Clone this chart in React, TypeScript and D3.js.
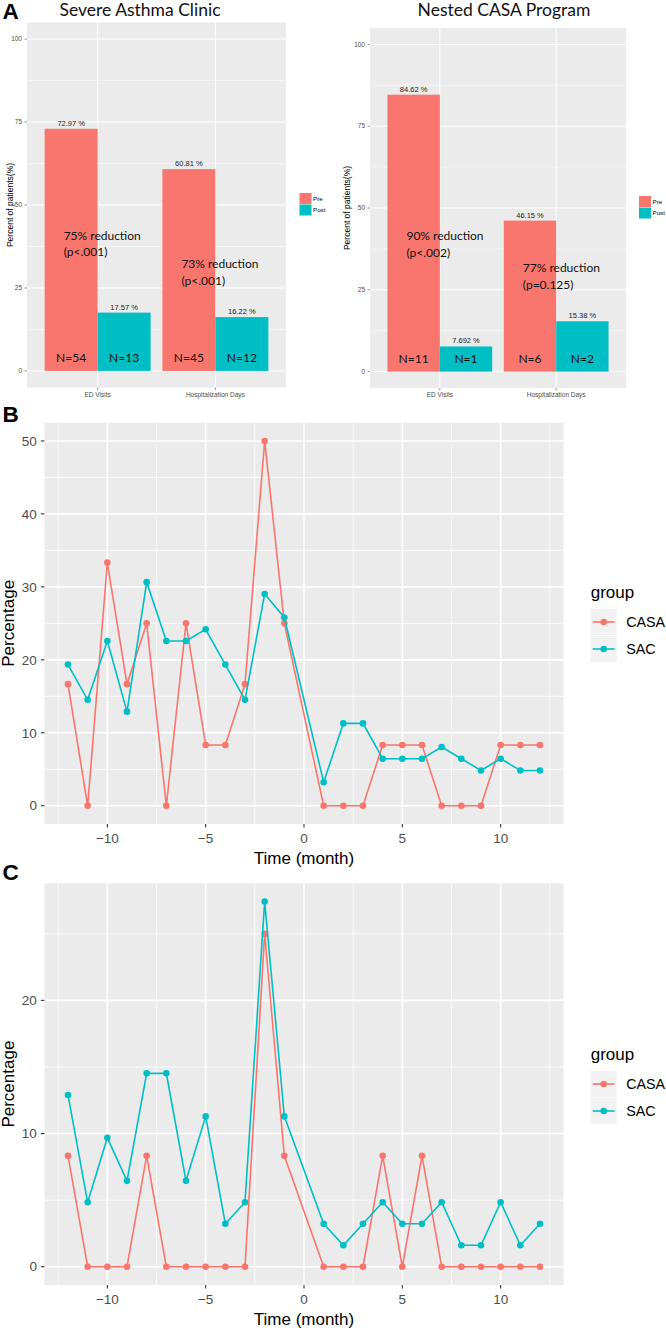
import React, { useEffect, useRef } from "react";
import * as d3 from "d3";

// panel A
const barCategories = ["ED Visits", "Hospitalization Days"];
const barGroups = ["Pre", "Post"];
const barTicks = [0, 25, 50, 75, 100];

const sacPre = [72.97, 60.81];
const sacPost = [17.57, 16.22];
const sacPreN = [54, 45];
const sacPostN = [13, 12];
const sacReduction = ["75% reduction", "73% reduction"];
const sacPValue = ["(p<.001)", "(p<.001)"];

const casaPre = [84.62, 46.15];
const casaPost = [7.692, 15.38];
const casaPreN = [11, 6];
const casaPostN = [1, 2];
const casaReduction = ["90% reduction", "77% reduction"];
const casaPValue = ["(p<.002)", "(p=0.125)"];

// panels B and C
const months = [-12, -11, -10, -9, -8, -7, -6, -5, -4, -3, -2, -1, 1, 2, 3, 4, 5, 6, 7, 8, 9, 10, 11, 12];
const groups = ["CASA", "SAC"];
const monthTicks = [-10, -5, 0, 5, 10];

const edCasa = [16.67, 0, 33.33, 16.67, 25, 0, 25, 8.33, 8.33, 16.67, 50, 25, 0, 0, 0, 8.33, 8.33, 8.33, 0, 0, 0, 8.33, 8.33, 8.33];
const edSac = [19.35, 14.52, 22.58, 12.9, 30.65, 22.58, 22.58, 24.19, 19.35, 14.52, 29.03, 25.81, 3.23, 11.29, 11.29, 6.45, 6.45, 6.45, 8.06, 6.45, 4.84, 6.45, 4.84, 4.84];
const edTicks = [0, 10, 20, 30, 40, 50];

const hospCasa = [8.33, 0, 0, 0, 8.33, 0, 0, 0, 0, 0, 25, 8.33, 0, 0, 0, 8.33, 0, 8.33, 0, 0, 0, 0, 0, 0];
const hospSac = [12.9, 4.84, 9.68, 6.45, 14.52, 14.52, 6.45, 11.29, 3.23, 4.84, 27.42, 11.29, 3.23, 1.61, 3.23, 4.84, 3.23, 3.23, 4.84, 1.61, 1.61, 4.84, 1.61, 3.23];
const hospTicks = [0, 10, 20];

const colors = { Pre: "#F8766D", Post: "#00BFC4", CASA: "#F8766D", SAC: "#00BFC4" };
const SANS = "'Liberation Sans', Arial, sans-serif";
const NOTE = "Lato, 'Open Sans', sans-serif";

function drawBarPanel(svg, o) {
    const y = d3.scaleLinear().domain([-5, 105]).range([o.bottom, o.top]);
    const x = d3.scalePoint().domain(barCategories).range([o.left, o.right]).padding(0.6);
    const step = x.step();
    const dodge = d3.scaleBand().domain(barGroups).range([-0.45 * step, 0.45 * step]);
    const g = svg.append("g");

    g.append("rect")
        .attr("x", o.left).attr("y", o.top)
        .attr("width", o.right - o.left).attr("height", o.bottom - o.top)
        .attr("fill", "#EBEBEB");

    g.selectAll(".minor").data([12.5, 37.5, 62.5, 87.5]).enter().append("line")
        .attr("x1", o.left).attr("x2", o.right)
        .attr("y1", (d) => y(d)).attr("y2", (d) => y(d))
        .attr("stroke", "#fff").attr("stroke-width", 0.5);
    g.selectAll(".major").data(barTicks).enter().append("line")
        .attr("x1", o.left).attr("x2", o.right)
        .attr("y1", (d) => y(d)).attr("y2", (d) => y(d))
        .attr("stroke", "#fff").attr("stroke-width", 1);
    g.selectAll(".vmajor").data(barCategories).enter().append("line")
        .attr("x1", (d) => x(d)).attr("x2", (d) => x(d))
        .attr("y1", o.top).attr("y2", o.bottom)
        .attr("stroke", "#fff").attr("stroke-width", 1);

    const rows = [];
    barCategories.forEach((c, i) => {
        rows.push({ cat: c, group: "Pre", value: o.pre[i], n: o.preN[i] });
        rows.push({ cat: c, group: "Post", value: o.post[i], n: o.postN[i] });
    });

    g.selectAll(".bar").data(rows).enter().append("rect")
        .attr("x", (d) => x(d.cat) + dodge(d.group))
        .attr("y", (d) => y(d.value))
        .attr("width", dodge.bandwidth())
        .attr("height", (d) => y(0) - y(d.value))
        .attr("fill", (d) => colors[d.group]);

    g.selectAll(".val").data(rows).enter().append("text")
        .attr("x", (d) => x(d.cat) + dodge(d.group) + dodge.bandwidth() / 2)
        .attr("y", (d) => y(d.value) - 3)
        .attr("text-anchor", "middle")
        .attr("font-family", SANS).attr("font-size", 7.5).attr("fill", "#222")
        .text((d) => `${d.value.toPrecision(4)} %`);

    g.selectAll(".n").data(rows).enter().append("text")
        .attr("x", (d) => x(d.cat) + dodge(d.group) + dodge.bandwidth() / 2)
        .attr("y", y(0) - 9)
        .attr("text-anchor", "middle")
        .attr("font-family", NOTE).attr("font-size", 12).attr("fill", "#111")
        .text((d) => `N=${d.n}`);

    barCategories.forEach((c, i) => {
        const t = g.append("text")
            .attr("font-family", NOTE).attr("font-size", 12).attr("fill", "#111");
        const tx = x(c) + dodge("Pre") + 19;
        t.append("tspan").attr("x", tx).attr("y", y(o.noteY[i])).text(o.reduction[i]);
        t.append("tspan").attr("x", tx).attr("y", y(o.noteY[i]) + 16.5).text(o.pValue[i]);
    });

    // y axis
    g.selectAll(".ytick").data(barTicks).enter().append("line")
        .attr("x1", o.left - 2.5).attr("x2", o.left)
        .attr("y1", (d) => y(d)).attr("y2", (d) => y(d))
        .attr("stroke", "#333").attr("stroke-width", 0.5);
    g.selectAll(".ylab").data(barTicks).enter().append("text")
        .attr("x", o.left - 5).attr("y", (d) => y(d)).attr("dy", "0.35em")
        .attr("text-anchor", "end")
        .attr("font-family", SANS).attr("font-size", 6.5).attr("fill", "#4D4D4D")
        .text((d) => d);

    // x axis
    g.selectAll(".xtick").data(barCategories).enter().append("line")
        .attr("x1", (d) => x(d)).attr("x2", (d) => x(d))
        .attr("y1", o.bottom).attr("y2", o.bottom + 2.5)
        .attr("stroke", "#333").attr("stroke-width", 0.5);
    g.selectAll(".xlab").data(barCategories).enter().append("text")
        .attr("x", (d) => x(d)).attr("y", o.bottom + 9)
        .attr("text-anchor", "middle")
        .attr("font-family", SANS).attr("font-size", 6.5).attr("fill", "#4D4D4D")
        .text((d) => d);

    g.append("text")
        .attr("transform", `translate(${o.yTitleX},${(o.top + o.bottom) / 2}) rotate(-90)`)
        .attr("text-anchor", "middle")
        .attr("font-family", SANS).attr("font-size", 8.5).attr("fill", "#000")
        .text("Percent of patients(%)");

    g.append("text")
        .attr("x", o.titleX).attr("y", o.titleY)
        .attr("text-anchor", "middle")
        .attr("font-family", NOTE).attr("font-size", 17.5).attr("fill", "#111")
        .text(o.title);

    // legend
    barGroups.forEach((grp, i) => {
        g.append("rect")
            .attr("x", o.legendX).attr("y", o.legendY + i * 11.5)
            .attr("width", 12).attr("height", 11)
            .attr("fill", colors[grp]);
        g.append("text")
            .attr("x", o.legendX + 13.5).attr("y", o.legendY + i * 11.5 + 5.5).attr("dy", "0.35em")
            .attr("font-family", SANS).attr("font-size", 6.2).attr("fill", "#000")
            .text(grp);
    });
}

function drawLinePanel(svg, o) {
    const allVals = o.casa.concat(o.sac);
    const ymax = d3.max(allVals);
    const x = d3.scaleLinear()
        .domain([d3.min(months) - 1.2, d3.max(months) + 1.2])
        .range([44.4, 563.6]);
    const y = d3.scaleLinear()
        .domain([-0.05 * ymax, ymax * 1.05])
        .range([o.bottom, o.top]);
    const g = svg.append("g");
    const left = x.range()[0], right = x.range()[1];

    g.append("rect")
        .attr("x", left).attr("y", o.top)
        .attr("width", right - left).attr("height", o.bottom - o.top)
        .attr("fill", "#EBEBEB");

    const yMinor = o.ticks.map((t) => t + 5).filter((t) => t < y.domain()[1]);
    const xMinor = [-12.5, -7.5, -2.5, 2.5, 7.5, 12.5];
    g.selectAll(".ymin").data(yMinor).enter().append("line")
        .attr("x1", left).attr("x2", right)
        .attr("y1", (d) => y(d)).attr("y2", (d) => y(d))
        .attr("stroke", "#fff").attr("stroke-width", 0.8);
    g.selectAll(".xmin").data(xMinor).enter().append("line")
        .attr("x1", (d) => x(d)).attr("x2", (d) => x(d))
        .attr("y1", o.top).attr("y2", o.bottom)
        .attr("stroke", "#fff").attr("stroke-width", 0.8);
    g.selectAll(".ymaj").data(o.ticks).enter().append("line")
        .attr("x1", left).attr("x2", right)
        .attr("y1", (d) => y(d)).attr("y2", (d) => y(d))
        .attr("stroke", "#fff").attr("stroke-width", 1.6);
    g.selectAll(".xmaj").data(monthTicks).enter().append("line")
        .attr("x1", (d) => x(d)).attr("x2", (d) => x(d))
        .attr("y1", o.top).attr("y2", o.bottom)
        .attr("stroke", "#fff").attr("stroke-width", 1.6);

    const line = d3.line().x((d) => x(d[0])).y((d) => y(d[1]));
    const series = [
        { name: "CASA", values: o.casa },
        { name: "SAC", values: o.sac },
    ];
    series.forEach((s) => {
        const pts = months.map((m, i) => [m, s.values[i]]);
        g.append("path")
            .attr("d", line(pts))
            .attr("fill", "none")
            .attr("stroke", colors[s.name])
            .attr("stroke-width", 1.6);
        g.selectAll(".pt-" + s.name).data(pts).enter().append("circle")
            .attr("cx", (d) => x(d[0])).attr("cy", (d) => y(d[1]))
            .attr("r", 3.3)
            .attr("fill", colors[s.name]);
    });

    // axes
    g.selectAll(".ytick").data(o.ticks).enter().append("line")
        .attr("x1", left - 3.5).attr("x2", left)
        .attr("y1", (d) => y(d)).attr("y2", (d) => y(d))
        .attr("stroke", "#333").attr("stroke-width", 1.1);
    g.selectAll(".ylab").data(o.ticks).enter().append("text")
        .attr("x", left - 7.5).attr("y", (d) => y(d)).attr("dy", "0.35em")
        .attr("text-anchor", "end")
        .attr("font-family", SANS).attr("font-size", 13.5).attr("fill", "#4D4D4D")
        .text((d) => d);
    const fmt = d3.format("d");
    g.selectAll(".xtick").data(monthTicks).enter().append("line")
        .attr("x1", (d) => x(d)).attr("x2", (d) => x(d))
        .attr("y1", o.bottom).attr("y2", o.bottom + 3.5)
        .attr("stroke", "#333").attr("stroke-width", 1.1);
    g.selectAll(".xlab").data(monthTicks).enter().append("text")
        .attr("x", (d) => x(d)).attr("y", o.bottom + 18.5)
        .attr("text-anchor", "middle")
        .attr("font-family", SANS).attr("font-size", 13.5).attr("fill", "#4D4D4D")
        .text((d) => fmt(d));

    g.append("text")
        .attr("x", (left + right) / 2).attr("y", o.bottom + 39.5)
        .attr("text-anchor", "middle")
        .attr("font-family", SANS).attr("font-size", 17).attr("fill", "#000")
        .text("Time (month)");
    g.append("text")
        .attr("transform", `translate(13.5,${(o.top + o.bottom) / 2}) rotate(-90)`)
        .attr("text-anchor", "middle")
        .attr("font-family", SANS).attr("font-size", 17).attr("fill", "#000")
        .text("Percentage");

    // legend
    const lx = 590.7;
    g.append("text")
        .attr("x", lx).attr("y", o.legendY)
        .attr("font-family", SANS).attr("font-size", 17).attr("fill", "#000")
        .text("group");
    groups.forEach((grp, i) => {
        const ky = o.legendY + 11 + i * 27;
        g.append("rect")
            .attr("x", lx).attr("y", ky).attr("width", 26).attr("height", 26)
            .attr("fill", "#F2F2F2");
        g.append("line")
            .attr("x1", lx + 2).attr("x2", lx + 24)
            .attr("y1", ky + 13).attr("y2", ky + 13)
            .attr("stroke", colors[grp]).attr("stroke-width", 1.6);
        g.append("circle")
            .attr("cx", lx + 13).attr("cy", ky + 13).attr("r", 3.3)
            .attr("fill", colors[grp]);
        g.append("text")
            .attr("x", lx + 35.5).attr("y", ky + 13).attr("dy", "0.35em")
            .attr("font-family", SANS).attr("font-size", 14.3).attr("fill", "#000")
            .text(grp);
    });
}

export default function App() {
    const ref = useRef(null);

    useEffect(() => {
        const svg = d3.select(ref.current);
        svg.selectAll("*").remove();

        drawBarPanel(svg, {
            left: 27, right: 286, top: 22.5, bottom: 387.5,
            pre: sacPre, post: sacPost, preN: sacPreN, postN: sacPostN,
            reduction: sacReduction, pValue: sacPValue, noteY: [39.5, 31],
            title: "Severe Asthma Clinic", titleX: 140, titleY: 15.5,
            yTitleX: 13, legendX: 299.5, legendY: 193,
        });
        drawBarPanel(svg, {
            left: 370, right: 626, top: 28, bottom: 388,
            pre: casaPre, post: casaPost, preN: casaPreN, postN: casaPostN,
            reduction: casaReduction, pValue: casaPValue, noteY: [40.2, 30.4],
            title: "Nested CASA Program", titleX: 504, titleY: 16,
            yTitleX: 350, legendX: 639, legendY: 196,
        });
        drawLinePanel(svg, {
            top: 422.7, bottom: 824, casa: edCasa, sac: edSac, ticks: edTicks, legendY: 598,
        });
        drawLinePanel(svg, {
            top: 883.3, bottom: 1285, casa: hospCasa, sac: hospSac, ticks: hospTicks, legendY: 1060,
        });

        const labels = [["A", 19], ["B", 421.5], ["C", 879.5]];
        labels.forEach(([t, yy]) => {
            svg.append("text")
                .attr("x", 2.5).attr("y", yy)
                .attr("font-family", SANS).attr("font-weight", "bold").attr("font-size", 22.5)
                .attr("fill", "#000")
                .text(t);
        });
    }, []);

    return (
        <svg
            ref={ref}
            width={666}
            height={1328}
            style={{ position: "absolute", left: 0, top: 0, background: "#fff" }}
        />
    );
}
